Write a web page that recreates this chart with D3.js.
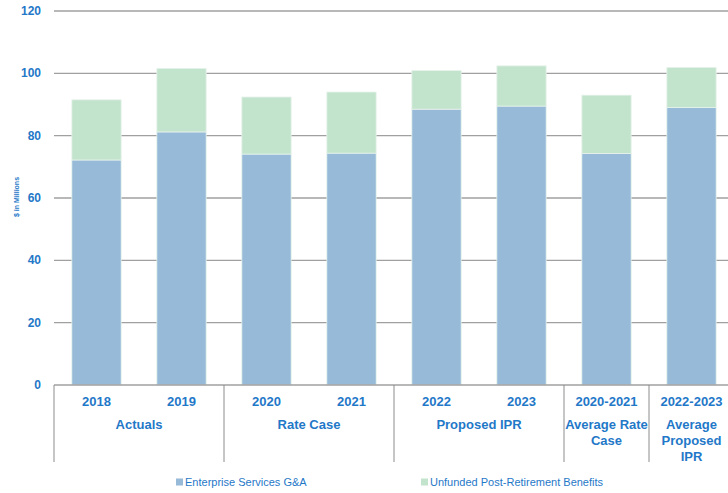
<!DOCTYPE html>
<html><head><meta charset="utf-8">
<script src="https://cdn.jsdelivr.net/npm/d3@7"></script>
<style>body{margin:0;background:#fff}svg{display:block;font-family:"Liberation Sans",Arial,sans-serif}</style>
</head><body><svg id="c" width="728" height="493"></svg>
<script>
const categories = ["2018","2019","2020","2021","2022","2023","2020-2021","2022-2023"];
const enterprise = [72.2, 81.2, 74.1, 74.4, 88.5, 89.5, 74.3, 89.0];
const unfunded = [19.3, 20.4, 18.3, 19.6, 12.4, 12.9, 18.7, 12.9];
const groups = [
  {label:["Actuals"], start:0, end:2},
  {label:["Rate Case"], start:2, end:4},
  {label:["Proposed IPR"], start:4, end:6},
  {label:["Average Rate","Case"], start:6, end:7},
  {label:["Average","Proposed","IPR"], start:7, end:8}
];
const yTicks = [0,20,40,60,80,100,120];
const seriesNames = ["Enterprise Services G&A","Unfunded Post-Retirement Benefits"];
const colors = ["#96bad8","#c3e4cc"];
const textColor = "#1f78c8";

const svg = d3.select("#c");
const x = d3.scaleBand().domain(categories).range([54,734]).paddingInner(0.42).paddingOuter(0.21);
const y = d3.scaleLinear().domain([0,120]).range([385,11]);

// gridlines
svg.append("g").selectAll("line").data(yTicks.filter(d=>d>0)).join("line")
  .attr("x1",54).attr("x2",728).attr("y1",d=>y(d)).attr("y2",d=>y(d))
  .attr("stroke","#a0a0a0").attr("stroke-width",1.3);

// y tick labels
svg.append("g").selectAll("text").data(yTicks).join("text")
  .attr("x",41).attr("y",d=>y(d)+4).attr("text-anchor","end")
  .attr("font-size",12).attr("font-weight","bold").attr("fill",textColor).text(d=>d);

// y title
svg.append("text").attr("transform","translate(19,197) rotate(-90)").attr("text-anchor","middle")
  .attr("font-size",7).attr("font-weight","bold").attr("fill",textColor).text("$ in Millions");

// stacked bars
const data = categories.map((c,i)=>({cat:c, e:enterprise[i], u:unfunded[i]}));
const stack = d3.stack().keys(["e","u"])(data);
svg.append("g").selectAll("g").data(stack).join("g").attr("fill",(d,i)=>colors[i])
  .selectAll("rect").data(d=>d).join("rect")
  .attr("x",d=>x(d.data.cat)).attr("width",x.bandwidth())
  .attr("y",d=>y(d[1])).attr("height",d=>y(d[0])-y(d[1]))
  .attr("stroke","#e6f2ec").attr("stroke-width",0.8);

// baseline
svg.append("line").attr("x1",54).attr("x2",728).attr("y1",385).attr("y2",385)
  .attr("stroke","#a0a0a0").attr("stroke-width",1.3);

// category labels
svg.append("g").selectAll("text").data(categories).join("text")
  .attr("x",d=>x(d)+x.bandwidth()/2).attr("y",406).attr("text-anchor","middle")
  .attr("font-size",13).attr("font-weight","bold").attr("fill",textColor).text(d=>d);

// group separators and labels
const step = x.step();
const x0 = 54;
const seps = [0,2,4,6,7];
svg.append("g").selectAll("line").data(seps).join("line")
  .attr("x1",d=>x0+d*step).attr("x2",d=>x0+d*step).attr("y1",385).attr("y2",462)
  .attr("stroke","#8c8c8c").attr("stroke-width",1);
const gl = svg.append("g").selectAll("text").data(groups).join("text")
  .attr("text-anchor","middle").attr("font-size",13).attr("font-weight","bold").attr("fill",textColor);
gl.each(function(g){
  const cx = x0 + (g.start+g.end)/2*step;
  d3.select(this).selectAll("tspan").data(g.label).join("tspan")
    .attr("x",cx).attr("y",(d,i)=>429+i*16).text(d=>d);
});

// legend
const legX = [176, 421];
const lg = svg.append("g").selectAll("g").data(seriesNames).join("g")
  .attr("transform",(d,i)=>`translate(${legX[i]},482)`);
lg.append("rect").attr("x",0).attr("y",-3.5).attr("width",7).attr("height",7).attr("fill",(d,i)=>colors[i]);
lg.append("text").attr("x",9).attr("y",4).attr("font-size",11).attr("fill",textColor).text(d=>d);
</script></body></html>
